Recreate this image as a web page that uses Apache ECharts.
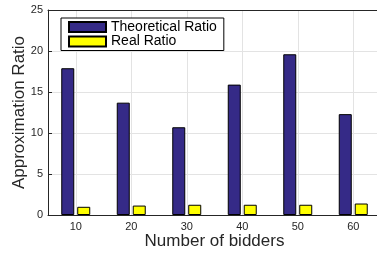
<!DOCTYPE html>
<html><head><meta charset="utf-8">
<script src="https://cdn.jsdelivr.net/npm/echarts@6/dist/echarts.min.js"></script>
<style>html,body{margin:0;padding:0;background:#fff}#c{width:377px;height:255px}</style>
</head><body><div id="c"></div>
<script>
const categories = ['10','20','30','40','50','60'];
const theoretical = [17.9, 13.7, 10.7, 15.9, 19.6, 12.3];
const real = [1.0, 1.15, 1.25, 1.25, 1.25, 1.4];
const yTicks = {min: 0, max: 25, interval: 5};

const chart = echarts.init(document.getElementById('c'), null, {renderer: 'canvas'});
const font = 'Liberation Sans, Arial, Helvetica, sans-serif';
const axisColor = '#262626';
chart.setOption({
  animation: false,
  textStyle: {fontFamily: font},
  grid: {left: 48, top: 10, right: -4, bottom: 40, containLabel: false, outerBoundsMode: 'none'},
  legend: {
    orient: 'vertical', left: 61, top: 18,
    backgroundColor: '#fff', borderColor: '#000', borderWidth: 1,
    padding: [2, 7, 2, 7], itemGap: 0.5, itemWidth: 37, itemHeight: 10,
    icon: 'rect',
    textStyle: {fontFamily: font, fontSize: 14, color: '#000'},
    data: ['Theoretical Ratio', 'Real Ratio']
  },
  xAxis: [{
    type: 'category', data: categories, position: 'bottom',
    name: 'Number of bidders', nameLocation: 'middle', nameGap: 18, nameMoveOverlap: false,
    nameTextStyle: {fontFamily: font, fontSize: 17, color: axisColor},
    axisLine: {lineStyle: {color: axisColor, width: 1}},
    axisTick: {inside: true, alignWithLabel: true, length: 4, lineStyle: {color: axisColor}},
    axisLabel: {fontFamily: font, fontSize: 11, color: axisColor, margin: 6},
    splitLine: {show: true, alignWithLabel: true, lineStyle: {color: '#e3e3e3', width: 1}}
  }, {
    type: 'category', data: categories, position: 'top',
    axisLine: {lineStyle: {color: axisColor, width: 1}},
    axisTick: {inside: true, alignWithLabel: true, length: 4, lineStyle: {color: axisColor}},
    axisLabel: {show: false}, splitLine: {show: false}
  }],
  yAxis: {
    type: 'value', min: yTicks.min, max: yTicks.max, interval: yTicks.interval,
    name: 'Approximation Ratio', nameLocation: 'middle', nameGap: 20, nameMoveOverlap: false,
    nameTextStyle: {fontFamily: font, fontSize: 17, color: axisColor},
    axisLine: {show: true, lineStyle: {color: axisColor, width: 1}},
    axisTick: {show: true, inside: true, length: 4, lineStyle: {color: axisColor}},
    axisLabel: {fontFamily: font, fontSize: 11, color: axisColor, margin: 5},
    splitLine: {show: true, lineStyle: {color: '#e3e3e3', width: 1}}
  },
  series: [{
    name: 'Theoretical Ratio', type: 'bar', data: theoretical,
    barWidth: 13, barGap: '23%',
    itemStyle: {color: '#352a87', borderColor: '#000', borderWidth: 1}
  }, {
    name: 'Real Ratio', type: 'bar', data: real,
    barWidth: 13, barGap: '23%',
    itemStyle: {color: '#ffff00', borderColor: '#000', borderWidth: 1}
  }]
});
</script></body></html>
